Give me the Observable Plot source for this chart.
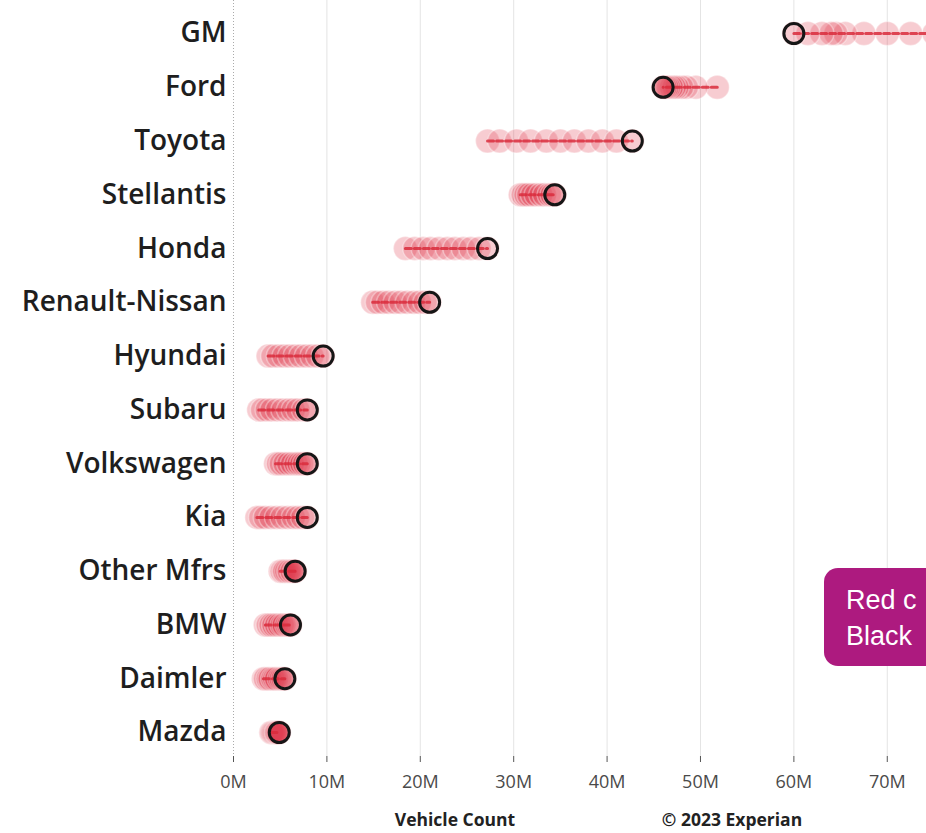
<!DOCTYPE html>
<html>
<head>
<meta charset="utf-8">
<script src="https://cdn.jsdelivr.net/npm/d3@7"></script>
<script src="https://cdn.jsdelivr.net/npm/@observablehq/plot@0.6"></script>
<style>
  html, body { margin: 0; padding: 0; background: #fff; overflow: hidden; }
  #wrap { position: relative; width: 926px; height: 833px; overflow: hidden; }
  .foot { position: absolute; top: 807px; font-family: "Open Sans", sans-serif; font-weight: 700; font-size: 17.5px; color: #222; transform: translateX(-50%); white-space: nowrap; }
  #note { position: absolute; left: 824px; top: 568px; width: 160px; height: 98px; background: #ad1a7f; border-radius: 14px; color: #fff; font-family: "Liberation Sans", Arial, sans-serif; font-size: 27px; line-height: 36px; padding: 14px 0 0 22px; box-sizing: border-box; }
</style>
</head>
<body>
<div id="wrap"></div>
<script>
// Manufacturers (top to bottom)
const manufacturers = ["GM", "Ford", "Toyota", "Stellantis", "Honda", "Renault-Nissan", "Hyundai", "Subaru", "Volkswagen", "Kia", "Other Mfrs", "BMW", "Daimler", "Mazda"];
// Years, earliest to latest (latest = black circle)
const years = [2013, 2014, 2015, 2016, 2017, 2018, 2019, 2020, 2021, 2022, 2023];
// Vehicle counts in millions, per year
const gm         = [77.0, 75.0, 72.5, 70.0, 67.5, 65.5, 64.5, 64.0, 63.0, 61.5, 60.0];
const ford       = [51.8, 49.5, 48.5, 48.0, 47.5, 47.2, 46.9, 46.6, 46.4, 46.2, 46.0];
const toyota     = [27.2, 28.5, 30.3, 31.8, 33.5, 35.0, 36.5, 38.0, 39.5, 41.0, 42.7];
const stellantis = [30.7, 31.0, 31.3, 31.6, 32.0, 32.4, 32.9, 33.3, 33.8, 34.1, 34.4];
const honda      = [18.4, 19.4, 20.3, 21.1, 22.0, 22.9, 23.7, 24.6, 25.4, 26.3, 27.2];
const renault    = [14.9, 15.4, 16.0, 16.6, 17.3, 17.9, 18.6, 19.3, 19.9, 20.5, 21.0];
const hyundai    = [3.7, 4.2, 4.8, 5.4, 6.0, 6.6, 7.2, 7.8, 8.4, 9.0, 9.6];
const subaru     = [2.7, 3.1, 3.6, 4.1, 4.7, 5.3, 5.9, 6.4, 6.9, 7.5, 7.9];
const volkswagen = [4.5, 4.8, 5.1, 5.5, 5.9, 6.3, 6.7, 7.0, 7.3, 7.6, 7.9];
const kia        = [2.5, 2.9, 3.4, 4.0, 4.6, 5.2, 5.8, 6.4, 6.9, 7.4, 7.9];
const other      = [5.0, 5.2, 5.4, 5.5, 5.7, 5.9, 6.0, 6.2, 6.3, 6.5, 6.6];
const bmw        = [3.4, 3.7, 4.0, 4.3, 4.6, 4.9, 5.2, 5.4, 5.7, 5.9, 6.1];
const daimler    = [3.2, 3.4, 3.7, 3.9, 4.2, 4.4, 4.6, 4.9, 5.1, 5.3, 5.5];
const mazda      = [4.0, 4.1, 4.2, 4.3, 4.4, 4.5, 4.6, 4.6, 4.7, 4.8, 4.9];
const series = [gm, ford, toyota, stellantis, honda, renault, hyundai, subaru, volkswagen, kia, other, bmw, daimler, mazda];
const xTicks = [0, 10, 20, 30, 40, 50, 60, 70];

const rows = manufacturers.flatMap((m, i) => years.map((yr, j) => ({maker: m, year: yr, value: series[i][j]})));
const latest = rows.filter(d => d.year === years[years.length - 1]);

const chart = Plot.plot({
  width: 926,
  height: 833,
  marginLeft: 233,
  marginRight: 0,
  marginTop: 0,
  marginBottom: 77,
  style: {fontFamily: "Open Sans, sans-serif", background: "#fff", overflow: "hidden"},
  x: {domain: [0, 74.2], ticks: xTicks, tickFormat: d => `${d}M`, label: null},
  y: {type: "point", domain: manufacturers, padding: 0, round: false, insetTop: 33, insetBottom: 24, label: null},
  marks: [
    Plot.gridX(xTicks.filter(d => d > 0), {stroke: "#e4e4e4", strokeOpacity: 1, strokeWidth: 1}),
    Plot.ruleX([0], {stroke: "#aaa", strokeDasharray: "1,2", strokeWidth: 1}),
    Plot.dot(rows, {x: "value", y: "maker", r: 12, fill: "#e23a4c", fillOpacity: 0.26, stroke: "#ffffff", strokeOpacity: 0.35, strokeWidth: 1.5}),
    Plot.line(rows, {x: "value", y: "maker", z: "maker", stroke: "#d92c3c", strokeWidth: 3, strokeDasharray: "6,3", strokeOpacity: 0.85}),
    Plot.dot(latest, {x: "value", y: "maker", r: 10, fill: "none", stroke: "#161616", strokeWidth: 3}),
    Plot.axisY({tickSize: 0, tickPadding: 7, fontSize: 28, fill: "#1e1e1e", fontWeight: 600}),
    Plot.axisX({ticks: xTicks, tickFormat: d => `${d}M`, tickSize: 6, tickPadding: 13, fontSize: 18, fill: "#4a4a4a", stroke: "#555", label: null})
  ]
});
const wrap = document.getElementById("wrap");
wrap.appendChild(chart);

const f1 = document.createElement("div");
f1.className = "foot"; f1.style.left = "455px"; f1.textContent = "Vehicle Count";
const f2 = document.createElement("div");
f2.className = "foot"; f2.style.left = "732px"; f2.textContent = "© 2023 Experian";
const note = document.createElement("div");
note.id = "note"; note.innerHTML = "Red c<br>Black";
wrap.append(f1, f2, note);
</script>
</body>
</html>
